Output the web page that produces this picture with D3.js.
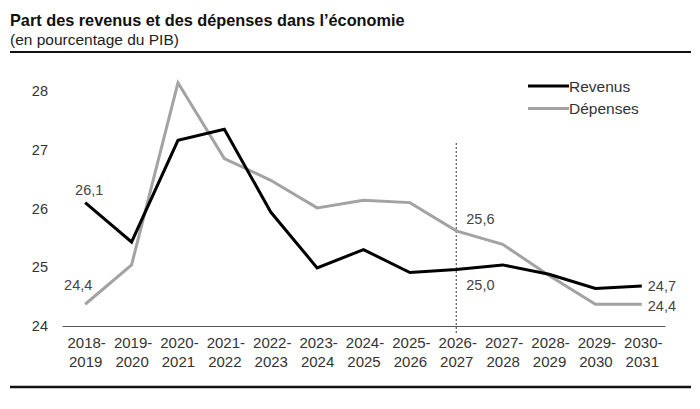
<!DOCTYPE html>
<html>
<head>
<meta charset="utf-8">
<script src="https://cdn.jsdelivr.net/npm/d3@7"></script>
<style>
  body { margin: 0; background: #fff; }
  svg { font-family: "Liberation Sans", Arial, sans-serif; }
</style>
</head>
<body>
<div id="chart"></div>
<script>
// years (fiscal) and values in % of GDP
var periods = ["2018-2019","2019-2020","2020-2021","2021-2022","2022-2023","2023-2024",
	"2024-2025","2025-2026","2026-2027","2027-2028","2028-2029","2029-2030","2030-2031"];
var revenus = [26.1, 25.43, 27.16, 27.35, 25.94, 24.99, 25.30, 24.91, 24.96, 25.04, 24.88, 24.64, 24.68];
var depenses = [24.37, 25.04, 28.14, 26.85, 26.48, 26.01, 26.14, 26.10, 25.62, 25.39, 24.86, 24.37, 24.37];
var yTicks = [24, 25, 26, 27, 28];
var seriesNames = ["Revenus", "Dépenses"];
var splitPeriod = "2026-2027";

var width = 700, height = 409;

var svg = d3.select("#chart").append("svg")
	.attr("width", width)
	.attr("height", height);

// title block
svg.append("text")
	.attr("x", 10).attr("y", 26)
	.attr("font-size", "16.3px").attr("font-weight", "bold").attr("fill", "#111")
	.text("Part des revenus et des dépenses dans l’économie");
svg.append("text")
	.attr("x", 10).attr("y", 45)
	.attr("font-size", "15.5px").attr("fill", "#222")
	.text("(en pourcentage du PIB)");
svg.append("line")
	.attr("x1", 10).attr("x2", 691).attr("y1", 52).attr("y2", 52)
	.attr("stroke", "#111").attr("stroke-width", 2);
svg.append("line")
	.attr("x1", 10).attr("x2", 691).attr("y1", 387).attr("y2", 387)
	.attr("stroke", "#111").attr("stroke-width", 2.5);

var x = d3.scalePoint()
	.domain(periods)
	.range([62, 665])
	.padding(0.5);

var y = d3.scaleLinear()
	.domain([24, 28])
	.range([326, 91]);

// y axis (labels only)
var yAxis = svg.append("g")
	.attr("transform", "translate(48,0)")
	.call(d3.axisLeft(y).tickValues(yTicks).tickSize(0).tickPadding(0).tickFormat(d3.format("d")));
yAxis.select(".domain").remove();
yAxis.selectAll("text")
	.attr("font-size", "14.5px").attr("fill", "#333")
	.attr("font-family", "Liberation Sans, Arial, sans-serif");

// x axis
var xAxis = svg.append("g")
	.attr("transform", "translate(0," + y(24) + ")")
	.call(d3.axisBottom(x).tickSize(0).tickFormat(""));
xAxis.select(".domain").attr("stroke", "#555").attr("stroke-width", 1);
xAxis.selectAll(".tick").each(function(d){
	var parts = d.split("-");
	var t = d3.select(this).append("text")
		.attr("fill", "#333")
		.attr("font-size", "15px")
		.attr("text-anchor", "middle")
		.attr("font-family", "Liberation Sans, Arial, sans-serif");
	t.append("tspan").attr("x", 1).attr("y", 22).text(parts[0] + "-");
	t.append("tspan").attr("x", 0).attr("y", 41).text(parts[1]);
});

// dashed split line
svg.append("line")
	.attr("x1", x(splitPeriod)).attr("x2", x(splitPeriod))
	.attr("y1", 143).attr("y2", 333)
	.attr("stroke", "#555").attr("stroke-width", 1.2)
	.attr("stroke-dasharray", "2,2");

var line = d3.line()
	.x(function(d, i){ return x(periods[i]); })
	.y(function(d){ return y(d); });

svg.append("path")
	.datum(depenses)
	.attr("d", line)
	.attr("fill", "none")
	.attr("stroke", "#a3a3a3")
	.attr("stroke-width", 3);

svg.append("path")
	.datum(revenus)
	.attr("d", line)
	.attr("fill", "none")
	.attr("stroke", "#000")
	.attr("stroke-width", 3);

// data labels
var fmt = function(v){ return d3.format(".1f")(v).replace(".", ","); };
var labels = [
	{v: revenus[0], i: 0, dx: 4, dy: -8, anchor: "middle", txt: "26,1"},
	{v: depenses[0], i: 0, dx: -7, dy: -14, anchor: "middle", txt: "24,4"},
	{v: depenses[8], i: 8, dx: 10, dy: -7, anchor: "start", txt: fmt(25.6)},
	{v: revenus[8], i: 8, dx: 10, dy: 20, anchor: "start", txt: fmt(25.0)},
	{v: revenus[12], i: 12, dx: 6, dy: 5, anchor: "start", txt: fmt(24.7)},
	{v: depenses[12], i: 12, dx: 6, dy: 7, anchor: "start", txt: fmt(24.4)}
];
svg.selectAll(".dlabel")
	.data(labels)
	.enter().append("text")
	.attr("class", "dlabel")
	.attr("x", function(d){ return x(periods[d.i]) + d.dx; })
	.attr("y", function(d){ return y(d.v) + d.dy; })
	.attr("text-anchor", function(d){ return d.anchor; })
	.attr("font-size", "14.5px")
	.attr("fill", "#444")
	.text(function(d){ return d.txt; });

// legend
var legend = svg.append("g").attr("transform", "translate(528,86)");
var lcolors = ["#000", "#a3a3a3"];
seriesNames.forEach(function(name, k){
	var g = legend.append("g").attr("transform", "translate(0," + (k * 22.5) + ")");
	g.append("line")
		.attr("x1", 0).attr("x2", 41).attr("y1", 0).attr("y2", 0)
		.attr("stroke", lcolors[k]).attr("stroke-width", 3);
	g.append("text")
		.attr("x", 41).attr("y", 5.5)
		.attr("font-size", "15.5px").attr("fill", "#333")
		.text(name);
});
</script>
</body>
</html>
